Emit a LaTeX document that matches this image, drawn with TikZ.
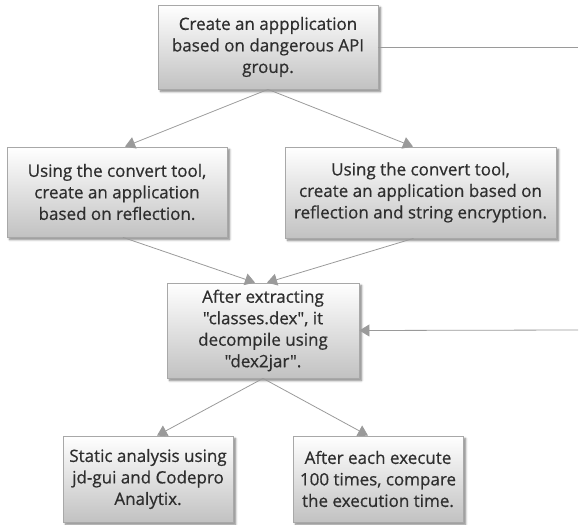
\documentclass[tikz,border=0pt]{standalone}
\usepackage{fontspec}
\setmainfont{Open Sans}
\newfontfamily\boxfont{Open Sans}[FakeBold=0.6]
\usetikzlibrary{arrows.meta,shadows.blur}
\definecolor{txt}{HTML}{2E2E2E}
\definecolor{edge}{HTML}{9A9A9A}
\definecolor{boxline}{HTML}{A8A8A8}
\newcommand{\dq}{\char34\relax}
\tikzset{
  box/.style={draw=boxline, line width=0.8pt, rectangle, align=center,
    top color=white, bottom color=black!24, text=txt, inner sep=2pt,
    font=\boxfont\fontsize{17}{21.5}\selectfont,
    blur shadow={shadow xshift=2.5pt, shadow yshift=-2.5pt, shadow blur steps=6, shadow opacity=50}},
  conn/.style={draw=edge, line width=0.8pt},
  arr/.style={conn, -{Triangle[width=12pt,length=10pt]}},
}
\begin{document}
\begin{tikzpicture}[x=1pt,y=-1pt]
\useasboundingbox (0,0) rectangle (580,524);
\node[box, minimum width=220pt, minimum height=84pt] (top) at (268,47)
  {Create an appplication\\based on dangerous API\\group.};
\node[box, minimum width=220pt, minimum height=90pt] (lm) at (117,192)
  {Using the convert tool,\\create an application\\based on reflection.};
\node[box, minimum width=271pt, minimum height=91pt] (rm) at (420.5,192.5)
  {Using the convert tool,\\create an application based on\\reflection and string encryption.};
\node[box, minimum width=192pt, minimum height=95pt] (mid) at (263,330.5)
  {After extracting\\\dq classes.dex\dq, it\\decompile using\\\dq dex2jar\dq.};
\node[box, minimum width=170pt, minimum height=86pt] (bl) at (148,479)
  {Static analysis using\\jd-gui and Codepro\\Analytix.};
\node[box, minimum width=170pt, minimum height=86pt] (br) at (378,479)
  {After each execute\\100 times, compare\\the execution time.};
\coordinate (e1) at (578,47);
\coordinate (e2) at (578,330);
\draw[conn] (top.east) -- (e1);
\draw[arr] (e2) -- (mid.east);
\draw[arr] (top.south) -- ([xshift=8pt]lm.north);
\draw[arr] (top.south) -- ([xshift=-7.5pt]rm.north);
\draw[arr] ([xshift=6pt]lm.south) -- ([xshift=-8pt]mid.north);
\draw[arr] ([xshift=-7pt]rm.south) -- ([xshift=4pt]mid.north);
\draw[arr] (mid.south) -- ([xshift=9pt]bl.north);
\draw[arr] (mid.south) -- ([xshift=-10pt]br.north);
\end{tikzpicture}
\end{document}
